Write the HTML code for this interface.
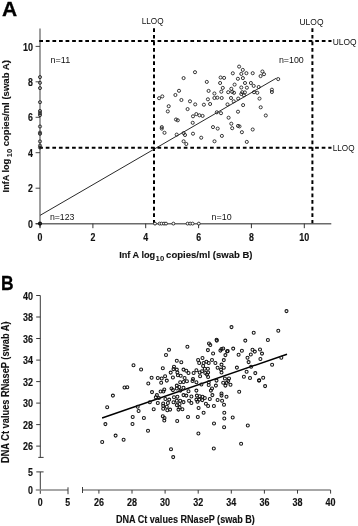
<!DOCTYPE html>
<html><head><meta charset="utf-8"><style>
html,body{margin:0;padding:0;background:#fff;}
body{width:358px;height:526px;overflow:hidden;}
svg{display:block;font-family:"Liberation Sans",sans-serif;filter:blur(0.3px);}
</style></head><body>
<svg width="358" height="526" viewBox="0 0 358 526">
<text x="1.90" y="15.50" font-size="21" font-weight="bold" stroke="#000" stroke-width="0.3" fill="#000" >A</text>
<line x1="40.0" y1="28.5" x2="40.0" y2="227.6" stroke="#6b6b6b" stroke-width="1.3"/>
<line x1="35.7" y1="223.7" x2="331.3" y2="223.7" stroke="#6b6b6b" stroke-width="1.6"/>
<line x1="35.6" y1="223.6" x2="40.0" y2="223.6" stroke="#333" stroke-width="0.9"/>
<text x="33.00" y="227.80" font-size="10.4" font-weight="bold" text-anchor="end" textLength="4.9" lengthAdjust="spacingAndGlyphs" stroke="#111" stroke-width="0.15" fill="#111" >0</text>
<line x1="40.0" y1="223.6" x2="40.0" y2="228.2" stroke="#333" stroke-width="1.0"/>
<text x="40.00" y="240.80" font-size="10.4" font-weight="bold" text-anchor="middle" textLength="4.9" lengthAdjust="spacingAndGlyphs" stroke="#111" stroke-width="0.15" fill="#111" >0</text>
<line x1="35.6" y1="188.2" x2="40.0" y2="188.2" stroke="#333" stroke-width="0.9"/>
<text x="33.00" y="192.36" font-size="10.4" font-weight="bold" text-anchor="end" textLength="4.9" lengthAdjust="spacingAndGlyphs" stroke="#111" stroke-width="0.15" fill="#111" >2</text>
<line x1="92.9" y1="223.6" x2="92.9" y2="228.2" stroke="#333" stroke-width="1.0"/>
<text x="92.86" y="240.80" font-size="10.4" font-weight="bold" text-anchor="middle" textLength="4.9" lengthAdjust="spacingAndGlyphs" stroke="#111" stroke-width="0.15" fill="#111" >2</text>
<line x1="35.6" y1="152.7" x2="40.0" y2="152.7" stroke="#333" stroke-width="0.9"/>
<text x="33.00" y="156.92" font-size="10.4" font-weight="bold" text-anchor="end" textLength="4.9" lengthAdjust="spacingAndGlyphs" stroke="#111" stroke-width="0.15" fill="#111" >4</text>
<line x1="145.7" y1="223.6" x2="145.7" y2="228.2" stroke="#333" stroke-width="1.0"/>
<text x="145.72" y="240.80" font-size="10.4" font-weight="bold" text-anchor="middle" textLength="4.9" lengthAdjust="spacingAndGlyphs" stroke="#111" stroke-width="0.15" fill="#111" >4</text>
<line x1="35.6" y1="117.3" x2="40.0" y2="117.3" stroke="#333" stroke-width="0.9"/>
<text x="33.00" y="121.48" font-size="10.4" font-weight="bold" text-anchor="end" textLength="4.9" lengthAdjust="spacingAndGlyphs" stroke="#111" stroke-width="0.15" fill="#111" >6</text>
<line x1="198.6" y1="223.6" x2="198.6" y2="228.2" stroke="#333" stroke-width="1.0"/>
<text x="198.58" y="240.80" font-size="10.4" font-weight="bold" text-anchor="middle" textLength="4.9" lengthAdjust="spacingAndGlyphs" stroke="#111" stroke-width="0.15" fill="#111" >6</text>
<line x1="35.6" y1="81.8" x2="40.0" y2="81.8" stroke="#333" stroke-width="0.9"/>
<text x="33.00" y="86.04" font-size="10.4" font-weight="bold" text-anchor="end" textLength="4.9" lengthAdjust="spacingAndGlyphs" stroke="#111" stroke-width="0.15" fill="#111" >8</text>
<line x1="251.4" y1="223.6" x2="251.4" y2="228.2" stroke="#333" stroke-width="1.0"/>
<text x="251.44" y="240.80" font-size="10.4" font-weight="bold" text-anchor="middle" textLength="4.9" lengthAdjust="spacingAndGlyphs" stroke="#111" stroke-width="0.15" fill="#111" >8</text>
<line x1="35.6" y1="46.4" x2="40.0" y2="46.4" stroke="#333" stroke-width="0.9"/>
<text x="33.00" y="50.60" font-size="10.4" font-weight="bold" text-anchor="end" textLength="10.0" lengthAdjust="spacingAndGlyphs" stroke="#111" stroke-width="0.15" fill="#111" >10</text>
<line x1="304.3" y1="223.6" x2="304.3" y2="228.2" stroke="#333" stroke-width="1.0"/>
<text x="304.30" y="240.80" font-size="10.4" font-weight="bold" text-anchor="middle" textLength="10.0" lengthAdjust="spacingAndGlyphs" stroke="#111" stroke-width="0.15" fill="#111" >10</text>
<line x1="39.3" y1="41.1" x2="331.5" y2="41.1" stroke="#000" stroke-width="2.0" stroke-dasharray="3.7 2.87"/>
<line x1="39.2" y1="147.7" x2="331.5" y2="147.7" stroke="#000" stroke-width="2.0" stroke-dasharray="3.7 2.87"/>
<line x1="154.0" y1="28.3" x2="154.0" y2="223.3" stroke="#000" stroke-width="2.0" stroke-dasharray="3.7 2.907"/>
<line x1="312.4" y1="28.3" x2="312.4" y2="223.3" stroke="#000" stroke-width="2.0" stroke-dasharray="3.7 2.907"/>
<text x="141.70" y="24.00" font-size="9.6" textLength="21.9" lengthAdjust="spacingAndGlyphs" fill="#111" >LLOQ</text>
<text x="299.50" y="25.20" font-size="9.6" textLength="24.0" lengthAdjust="spacingAndGlyphs" fill="#111" >ULOQ</text>
<text x="332.70" y="44.90" font-size="9.6" textLength="23.9" lengthAdjust="spacingAndGlyphs" fill="#111" >ULOQ</text>
<text x="332.70" y="151.00" font-size="9.6" textLength="21.8" lengthAdjust="spacingAndGlyphs" fill="#111" >LLOQ</text>
<text x="50.40" y="63.00" font-size="9.4" textLength="19.8" lengthAdjust="spacingAndGlyphs" fill="#111" >n=11</text>
<text x="278.90" y="63.00" font-size="9.4" textLength="24.9" lengthAdjust="spacingAndGlyphs" fill="#111" >n=100</text>
<text x="49.90" y="220.00" font-size="9.4" textLength="24.6" lengthAdjust="spacingAndGlyphs" fill="#111" >n=123</text>
<text x="211.60" y="220.00" font-size="9.4" textLength="20.0" lengthAdjust="spacingAndGlyphs" fill="#111" >n=10</text>
<text x="119.20" y="258.30" font-size="9.4" font-weight="bold" textLength="36.0" lengthAdjust="spacingAndGlyphs" stroke="#111" stroke-width="0.12" fill="#111" >Inf A log</text>
<text x="155.60" y="261.00" font-size="7.6" font-weight="bold" textLength="8.6" lengthAdjust="spacingAndGlyphs" fill="#111" >10</text>
<text x="166.10" y="258.30" font-size="9.4" font-weight="bold" textLength="86.4" lengthAdjust="spacingAndGlyphs" stroke="#111" stroke-width="0.12" fill="#111" >copies/ml (swab B)</text>
<g transform="translate(8.9,192.4) rotate(-90)">
<text x="0.00" y="0.00" font-size="9.7" font-weight="bold" textLength="33.6" lengthAdjust="spacingAndGlyphs" stroke="#111" stroke-width="0.12" fill="#111" >InfA log</text>
<text x="35.20" y="2.90" font-size="7.6" font-weight="bold" textLength="8.5" lengthAdjust="spacingAndGlyphs" fill="#111" >10</text>
<text x="46.10" y="0.30" font-size="9.7" font-weight="bold" textLength="86.2" lengthAdjust="spacingAndGlyphs" stroke="#111" stroke-width="0.12" fill="#111" >copies/ml (swab A)</text>
</g>
<line x1="40.2" y1="215.3" x2="276.3" y2="78.2" stroke="#111" stroke-width="0.9"/>
<circle cx="195.0" cy="72.2" r="1.55" fill="none" stroke="#222" stroke-width="0.9"/>
<circle cx="183.6" cy="78.1" r="1.55" fill="none" stroke="#222" stroke-width="0.9"/>
<circle cx="206.8" cy="81.9" r="1.55" fill="none" stroke="#222" stroke-width="0.9"/>
<circle cx="179.0" cy="90.8" r="1.55" fill="none" stroke="#222" stroke-width="0.9"/>
<circle cx="208.6" cy="90.9" r="1.55" fill="none" stroke="#222" stroke-width="0.9"/>
<circle cx="175.4" cy="95.0" r="1.55" fill="none" stroke="#222" stroke-width="0.9"/>
<circle cx="162.3" cy="96.4" r="1.55" fill="none" stroke="#222" stroke-width="0.9"/>
<circle cx="159.1" cy="98.2" r="1.55" fill="none" stroke="#222" stroke-width="0.9"/>
<circle cx="181.4" cy="100.0" r="1.55" fill="none" stroke="#222" stroke-width="0.9"/>
<circle cx="207.9" cy="99.3" r="1.55" fill="none" stroke="#222" stroke-width="0.9"/>
<circle cx="190.0" cy="101.3" r="1.55" fill="none" stroke="#222" stroke-width="0.9"/>
<circle cx="195.2" cy="104.4" r="1.55" fill="none" stroke="#222" stroke-width="0.9"/>
<circle cx="203.9" cy="104.7" r="1.55" fill="none" stroke="#222" stroke-width="0.9"/>
<circle cx="210.1" cy="104.0" r="1.55" fill="none" stroke="#222" stroke-width="0.9"/>
<circle cx="168.7" cy="106.2" r="1.55" fill="none" stroke="#222" stroke-width="0.9"/>
<circle cx="187.6" cy="109.1" r="1.55" fill="none" stroke="#222" stroke-width="0.9"/>
<circle cx="239.1" cy="66.6" r="1.55" fill="none" stroke="#222" stroke-width="0.9"/>
<circle cx="242.8" cy="69.9" r="1.55" fill="none" stroke="#222" stroke-width="0.9"/>
<circle cx="232.8" cy="73.3" r="1.55" fill="none" stroke="#222" stroke-width="0.9"/>
<circle cx="241.3" cy="73.9" r="1.55" fill="none" stroke="#222" stroke-width="0.9"/>
<circle cx="246.4" cy="73.2" r="1.55" fill="none" stroke="#222" stroke-width="0.9"/>
<circle cx="252.7" cy="73.2" r="1.55" fill="none" stroke="#222" stroke-width="0.9"/>
<circle cx="262.4" cy="71.5" r="1.55" fill="none" stroke="#222" stroke-width="0.9"/>
<circle cx="264.0" cy="74.2" r="1.55" fill="none" stroke="#222" stroke-width="0.9"/>
<circle cx="260.6" cy="76.1" r="1.55" fill="none" stroke="#222" stroke-width="0.9"/>
<circle cx="220.6" cy="77.5" r="1.55" fill="none" stroke="#222" stroke-width="0.9"/>
<circle cx="224.1" cy="77.9" r="1.55" fill="none" stroke="#222" stroke-width="0.9"/>
<circle cx="237.9" cy="78.8" r="1.55" fill="none" stroke="#222" stroke-width="0.9"/>
<circle cx="242.9" cy="78.1" r="1.55" fill="none" stroke="#222" stroke-width="0.9"/>
<circle cx="220.1" cy="83.0" r="1.55" fill="none" stroke="#222" stroke-width="0.9"/>
<circle cx="245.0" cy="83.0" r="1.55" fill="none" stroke="#222" stroke-width="0.9"/>
<circle cx="250.9" cy="83.0" r="1.55" fill="none" stroke="#222" stroke-width="0.9"/>
<circle cx="234.6" cy="84.6" r="1.55" fill="none" stroke="#222" stroke-width="0.9"/>
<circle cx="253.7" cy="85.9" r="1.55" fill="none" stroke="#222" stroke-width="0.9"/>
<circle cx="222.8" cy="87.9" r="1.55" fill="none" stroke="#222" stroke-width="0.9"/>
<circle cx="241.3" cy="87.5" r="1.55" fill="none" stroke="#222" stroke-width="0.9"/>
<circle cx="246.9" cy="87.7" r="1.55" fill="none" stroke="#222" stroke-width="0.9"/>
<circle cx="258.7" cy="87.0" r="1.55" fill="none" stroke="#222" stroke-width="0.9"/>
<circle cx="231.3" cy="88.8" r="1.55" fill="none" stroke="#222" stroke-width="0.9"/>
<circle cx="221.3" cy="91.7" r="1.55" fill="none" stroke="#222" stroke-width="0.9"/>
<circle cx="228.2" cy="92.2" r="1.55" fill="none" stroke="#222" stroke-width="0.9"/>
<circle cx="232.2" cy="91.9" r="1.55" fill="none" stroke="#222" stroke-width="0.9"/>
<circle cx="234.0" cy="92.8" r="1.55" fill="none" stroke="#222" stroke-width="0.9"/>
<circle cx="242.2" cy="92.2" r="1.55" fill="none" stroke="#222" stroke-width="0.9"/>
<circle cx="244.9" cy="92.4" r="1.55" fill="none" stroke="#222" stroke-width="0.9"/>
<circle cx="254.0" cy="92.2" r="1.55" fill="none" stroke="#222" stroke-width="0.9"/>
<circle cx="257.3" cy="92.8" r="1.55" fill="none" stroke="#222" stroke-width="0.9"/>
<circle cx="214.4" cy="93.5" r="1.55" fill="none" stroke="#222" stroke-width="0.9"/>
<circle cx="241.3" cy="94.0" r="1.55" fill="none" stroke="#222" stroke-width="0.9"/>
<circle cx="243.9" cy="95.3" r="1.55" fill="none" stroke="#222" stroke-width="0.9"/>
<circle cx="214.4" cy="98.0" r="1.55" fill="none" stroke="#222" stroke-width="0.9"/>
<circle cx="217.3" cy="97.7" r="1.55" fill="none" stroke="#222" stroke-width="0.9"/>
<circle cx="221.7" cy="98.0" r="1.55" fill="none" stroke="#222" stroke-width="0.9"/>
<circle cx="231.0" cy="98.0" r="1.55" fill="none" stroke="#222" stroke-width="0.9"/>
<circle cx="238.2" cy="98.6" r="1.55" fill="none" stroke="#222" stroke-width="0.9"/>
<circle cx="259.5" cy="98.6" r="1.55" fill="none" stroke="#222" stroke-width="0.9"/>
<circle cx="233.7" cy="101.3" r="1.55" fill="none" stroke="#222" stroke-width="0.9"/>
<circle cx="227.5" cy="104.4" r="1.55" fill="none" stroke="#222" stroke-width="0.9"/>
<circle cx="243.1" cy="105.1" r="1.55" fill="none" stroke="#222" stroke-width="0.9"/>
<circle cx="260.7" cy="107.3" r="1.55" fill="none" stroke="#222" stroke-width="0.9"/>
<circle cx="278.2" cy="79.1" r="1.55" fill="none" stroke="#222" stroke-width="0.9"/>
<circle cx="271.9" cy="89.7" r="1.55" fill="none" stroke="#222" stroke-width="0.9"/>
<circle cx="271.9" cy="92.0" r="1.55" fill="none" stroke="#222" stroke-width="0.9"/>
<circle cx="167.8" cy="111.4" r="1.55" fill="none" stroke="#222" stroke-width="0.9"/>
<circle cx="193.0" cy="116.3" r="1.55" fill="none" stroke="#222" stroke-width="0.9"/>
<circle cx="196.3" cy="114.1" r="1.55" fill="none" stroke="#222" stroke-width="0.9"/>
<circle cx="199.4" cy="115.3" r="1.55" fill="none" stroke="#222" stroke-width="0.9"/>
<circle cx="202.6" cy="115.9" r="1.55" fill="none" stroke="#222" stroke-width="0.9"/>
<circle cx="176.0" cy="119.5" r="1.55" fill="none" stroke="#222" stroke-width="0.9"/>
<circle cx="177.8" cy="120.3" r="1.55" fill="none" stroke="#222" stroke-width="0.9"/>
<circle cx="192.7" cy="122.8" r="1.55" fill="none" stroke="#222" stroke-width="0.9"/>
<circle cx="161.8" cy="127.1" r="1.55" fill="none" stroke="#222" stroke-width="0.9"/>
<circle cx="161.8" cy="128.6" r="1.55" fill="none" stroke="#222" stroke-width="0.9"/>
<circle cx="164.5" cy="132.8" r="1.55" fill="none" stroke="#222" stroke-width="0.9"/>
<circle cx="176.7" cy="134.6" r="1.55" fill="none" stroke="#222" stroke-width="0.9"/>
<circle cx="183.6" cy="133.1" r="1.55" fill="none" stroke="#222" stroke-width="0.9"/>
<circle cx="185.0" cy="135.0" r="1.55" fill="none" stroke="#222" stroke-width="0.9"/>
<circle cx="193.0" cy="133.7" r="1.55" fill="none" stroke="#222" stroke-width="0.9"/>
<circle cx="201.2" cy="137.7" r="1.55" fill="none" stroke="#222" stroke-width="0.9"/>
<circle cx="213.0" cy="127.1" r="1.55" fill="none" stroke="#222" stroke-width="0.9"/>
<circle cx="183.6" cy="141.3" r="1.55" fill="none" stroke="#222" stroke-width="0.9"/>
<circle cx="186.3" cy="144.0" r="1.55" fill="none" stroke="#222" stroke-width="0.9"/>
<circle cx="214.5" cy="141.3" r="1.55" fill="none" stroke="#222" stroke-width="0.9"/>
<circle cx="216.8" cy="112.3" r="1.55" fill="none" stroke="#222" stroke-width="0.9"/>
<circle cx="221.0" cy="113.2" r="1.55" fill="none" stroke="#222" stroke-width="0.9"/>
<circle cx="238.0" cy="111.7" r="1.55" fill="none" stroke="#222" stroke-width="0.9"/>
<circle cx="265.8" cy="115.5" r="1.55" fill="none" stroke="#222" stroke-width="0.9"/>
<circle cx="228.6" cy="117.7" r="1.55" fill="none" stroke="#222" stroke-width="0.9"/>
<circle cx="231.3" cy="123.7" r="1.55" fill="none" stroke="#222" stroke-width="0.9"/>
<circle cx="232.2" cy="128.2" r="1.55" fill="none" stroke="#222" stroke-width="0.9"/>
<circle cx="238.0" cy="125.9" r="1.55" fill="none" stroke="#222" stroke-width="0.9"/>
<circle cx="239.5" cy="126.4" r="1.55" fill="none" stroke="#222" stroke-width="0.9"/>
<circle cx="217.7" cy="128.6" r="1.55" fill="none" stroke="#222" stroke-width="0.9"/>
<circle cx="241.9" cy="132.2" r="1.55" fill="none" stroke="#222" stroke-width="0.9"/>
<circle cx="252.7" cy="129.5" r="1.55" fill="none" stroke="#222" stroke-width="0.9"/>
<circle cx="221.9" cy="135.9" r="1.55" fill="none" stroke="#222" stroke-width="0.9"/>
<circle cx="246.8" cy="141.9" r="1.55" fill="none" stroke="#222" stroke-width="0.9"/>
<circle cx="40.0" cy="77.1" r="1.55" fill="none" stroke="#222" stroke-width="0.9"/>
<circle cx="40.0" cy="82.8" r="1.55" fill="none" stroke="#222" stroke-width="0.9"/>
<circle cx="40.0" cy="88.1" r="1.55" fill="none" stroke="#222" stroke-width="0.9"/>
<circle cx="40.0" cy="102.2" r="1.55" fill="none" stroke="#222" stroke-width="0.9"/>
<circle cx="40.0" cy="111.0" r="1.55" fill="none" stroke="#222" stroke-width="0.9"/>
<circle cx="40.0" cy="113.2" r="1.55" fill="none" stroke="#222" stroke-width="0.9"/>
<circle cx="40.0" cy="115.1" r="1.55" fill="none" stroke="#222" stroke-width="0.9"/>
<circle cx="40.0" cy="126.5" r="1.55" fill="none" stroke="#222" stroke-width="0.9"/>
<circle cx="40.0" cy="132.6" r="1.55" fill="none" stroke="#222" stroke-width="0.9"/>
<circle cx="40.0" cy="133.8" r="1.55" fill="none" stroke="#222" stroke-width="0.9"/>
<circle cx="40.0" cy="141.4" r="1.55" fill="none" stroke="#222" stroke-width="0.9"/>
<circle cx="40.0" cy="145.6" r="1.55" fill="none" stroke="#222" stroke-width="0.9"/>
<circle cx="40.0" cy="147.5" r="1.55" fill="none" stroke="#222" stroke-width="0.9"/>
<circle cx="155.0" cy="223.6" r="1.45" fill="#fff" stroke="#222" stroke-width="0.9"/>
<circle cx="159.6" cy="223.6" r="1.45" fill="#fff" stroke="#222" stroke-width="0.9"/>
<circle cx="161.6" cy="223.6" r="1.45" fill="#fff" stroke="#222" stroke-width="0.9"/>
<circle cx="164.0" cy="223.6" r="1.45" fill="#fff" stroke="#222" stroke-width="0.9"/>
<circle cx="166.0" cy="223.6" r="1.45" fill="#fff" stroke="#222" stroke-width="0.9"/>
<circle cx="173.4" cy="223.6" r="1.45" fill="#fff" stroke="#222" stroke-width="0.9"/>
<circle cx="187.6" cy="223.6" r="1.45" fill="#fff" stroke="#222" stroke-width="0.9"/>
<circle cx="190.2" cy="223.6" r="1.45" fill="#fff" stroke="#222" stroke-width="0.9"/>
<circle cx="192.6" cy="223.6" r="1.45" fill="#fff" stroke="#222" stroke-width="0.9"/>
<circle cx="198.8" cy="223.6" r="1.45" fill="#fff" stroke="#222" stroke-width="0.9"/>
<circle cx="40.0" cy="223.6" r="1.3" fill="none" stroke="#111" stroke-width="1.6"/>
<text x="1.00" y="290.10" font-size="20.6" font-weight="bold" textLength="12.6" lengthAdjust="spacingAndGlyphs" stroke="#000" stroke-width="0.3" fill="#000" >B</text>
<line x1="40.3" y1="295.5" x2="40.3" y2="457.4" stroke="#3a3a3a" stroke-width="1"/>
<line x1="38.3" y1="457.4" x2="43.6" y2="457.4" stroke="#3a3a3a" stroke-width="1"/>
<line x1="36.2" y1="446.1" x2="40.3" y2="446.1" stroke="#3a3a3a" stroke-width="1"/>
<text x="33.00" y="450.34" font-size="10.4" font-weight="bold" text-anchor="end" textLength="10.0" lengthAdjust="spacingAndGlyphs" stroke="#111" stroke-width="0.15" fill="#111" >26</text>
<line x1="36.2" y1="424.6" x2="40.3" y2="424.6" stroke="#3a3a3a" stroke-width="1"/>
<text x="33.00" y="428.82" font-size="10.4" font-weight="bold" text-anchor="end" textLength="10.0" lengthAdjust="spacingAndGlyphs" stroke="#111" stroke-width="0.15" fill="#111" >28</text>
<line x1="36.2" y1="403.1" x2="40.3" y2="403.1" stroke="#3a3a3a" stroke-width="1"/>
<text x="33.00" y="407.30" font-size="10.4" font-weight="bold" text-anchor="end" textLength="10.0" lengthAdjust="spacingAndGlyphs" stroke="#111" stroke-width="0.15" fill="#111" >30</text>
<line x1="36.2" y1="381.6" x2="40.3" y2="381.6" stroke="#3a3a3a" stroke-width="1"/>
<text x="33.00" y="385.78" font-size="10.4" font-weight="bold" text-anchor="end" textLength="10.0" lengthAdjust="spacingAndGlyphs" stroke="#111" stroke-width="0.15" fill="#111" >32</text>
<line x1="36.2" y1="360.1" x2="40.3" y2="360.1" stroke="#3a3a3a" stroke-width="1"/>
<text x="33.00" y="364.26" font-size="10.4" font-weight="bold" text-anchor="end" textLength="10.0" lengthAdjust="spacingAndGlyphs" stroke="#111" stroke-width="0.15" fill="#111" >34</text>
<line x1="36.2" y1="338.5" x2="40.3" y2="338.5" stroke="#3a3a3a" stroke-width="1"/>
<text x="33.00" y="342.74" font-size="10.4" font-weight="bold" text-anchor="end" textLength="10.0" lengthAdjust="spacingAndGlyphs" stroke="#111" stroke-width="0.15" fill="#111" >36</text>
<line x1="36.2" y1="317.0" x2="40.3" y2="317.0" stroke="#3a3a3a" stroke-width="1"/>
<text x="33.00" y="321.22" font-size="10.4" font-weight="bold" text-anchor="end" textLength="10.0" lengthAdjust="spacingAndGlyphs" stroke="#111" stroke-width="0.15" fill="#111" >38</text>
<line x1="36.2" y1="295.5" x2="40.3" y2="295.5" stroke="#3a3a3a" stroke-width="1"/>
<text x="33.00" y="299.70" font-size="10.4" font-weight="bold" text-anchor="end" textLength="10.0" lengthAdjust="spacingAndGlyphs" stroke="#111" stroke-width="0.15" fill="#111" >40</text>
<line x1="40.3" y1="471.9" x2="40.3" y2="493.8" stroke="#3a3a3a" stroke-width="1"/>
<line x1="36.3" y1="471.9" x2="43.6" y2="471.9" stroke="#3a3a3a" stroke-width="1"/>
<text x="33.00" y="476.10" font-size="10.4" font-weight="bold" text-anchor="end" textLength="4.9" lengthAdjust="spacingAndGlyphs" stroke="#111" stroke-width="0.15" fill="#111" >5</text>
<text x="33.00" y="493.70" font-size="10.4" font-weight="bold" text-anchor="end" textLength="4.9" lengthAdjust="spacingAndGlyphs" stroke="#111" stroke-width="0.15" fill="#111" >0</text>
<line x1="35.8" y1="490" x2="68" y2="490" stroke="#8a8a8a" stroke-width="1.7"/>
<line x1="68" y1="487.3" x2="68" y2="494.2" stroke="#3a3a3a" stroke-width="1"/>
<text x="40.30" y="506.00" font-size="10.4" font-weight="bold" text-anchor="middle" textLength="4.9" lengthAdjust="spacingAndGlyphs" stroke="#111" stroke-width="0.15" fill="#111" >0</text>
<text x="67.60" y="506.00" font-size="10.4" font-weight="bold" text-anchor="middle" textLength="4.9" lengthAdjust="spacingAndGlyphs" stroke="#111" stroke-width="0.15" fill="#111" >5</text>
<line x1="82.5" y1="490" x2="330.6" y2="490" stroke="#8a8a8a" stroke-width="1.7"/>
<line x1="82.5" y1="487" x2="82.5" y2="493" stroke="#3a3a3a" stroke-width="1"/>
<line x1="98.9" y1="490" x2="98.9" y2="493.6" stroke="#3a3a3a" stroke-width="1"/>
<text x="98.90" y="506.00" font-size="10.4" font-weight="bold" text-anchor="middle" textLength="10.0" lengthAdjust="spacingAndGlyphs" stroke="#111" stroke-width="0.15" fill="#111" >26</text>
<line x1="132.0" y1="490" x2="132.0" y2="493.6" stroke="#3a3a3a" stroke-width="1"/>
<text x="132.00" y="506.00" font-size="10.4" font-weight="bold" text-anchor="middle" textLength="10.0" lengthAdjust="spacingAndGlyphs" stroke="#111" stroke-width="0.15" fill="#111" >28</text>
<line x1="165.1" y1="490" x2="165.1" y2="493.6" stroke="#3a3a3a" stroke-width="1"/>
<text x="165.10" y="506.00" font-size="10.4" font-weight="bold" text-anchor="middle" textLength="10.0" lengthAdjust="spacingAndGlyphs" stroke="#111" stroke-width="0.15" fill="#111" >30</text>
<line x1="198.2" y1="490" x2="198.2" y2="493.6" stroke="#3a3a3a" stroke-width="1"/>
<text x="198.20" y="506.00" font-size="10.4" font-weight="bold" text-anchor="middle" textLength="10.0" lengthAdjust="spacingAndGlyphs" stroke="#111" stroke-width="0.15" fill="#111" >32</text>
<line x1="231.3" y1="490" x2="231.3" y2="493.6" stroke="#3a3a3a" stroke-width="1"/>
<text x="231.30" y="506.00" font-size="10.4" font-weight="bold" text-anchor="middle" textLength="10.0" lengthAdjust="spacingAndGlyphs" stroke="#111" stroke-width="0.15" fill="#111" >34</text>
<line x1="264.4" y1="490" x2="264.4" y2="493.6" stroke="#3a3a3a" stroke-width="1"/>
<text x="264.40" y="506.00" font-size="10.4" font-weight="bold" text-anchor="middle" textLength="10.0" lengthAdjust="spacingAndGlyphs" stroke="#111" stroke-width="0.15" fill="#111" >36</text>
<line x1="297.5" y1="490" x2="297.5" y2="493.6" stroke="#3a3a3a" stroke-width="1"/>
<text x="297.50" y="506.00" font-size="10.4" font-weight="bold" text-anchor="middle" textLength="10.0" lengthAdjust="spacingAndGlyphs" stroke="#111" stroke-width="0.15" fill="#111" >38</text>
<line x1="330.6" y1="490" x2="330.6" y2="493.6" stroke="#3a3a3a" stroke-width="1"/>
<text x="330.60" y="506.00" font-size="10.4" font-weight="bold" text-anchor="middle" textLength="10.0" lengthAdjust="spacingAndGlyphs" stroke="#111" stroke-width="0.15" fill="#111" >40</text>
<text x="115.90" y="522.60" font-size="10.2" font-weight="bold" textLength="139.0" lengthAdjust="spacingAndGlyphs" stroke="#111" stroke-width="0.12" fill="#111" >DNA Ct values RNaseP (swab B)</text>
<g transform="translate(9.0,463.0) rotate(-90)">
<text x="0.00" y="0.20" font-size="10.2" font-weight="bold" textLength="141.6" lengthAdjust="spacingAndGlyphs" stroke="#111" stroke-width="0.12" fill="#111" >DNA Ct values RNaseP (swab A)</text>
</g>
<line x1="102.1" y1="418.0" x2="287.0" y2="354.2" stroke="#000" stroke-width="1.5"/>
<circle cx="148.3" cy="383.4" r="1.5" fill="none" stroke="#151515" stroke-width="1.05"/>
<circle cx="124.5" cy="387.5" r="1.5" fill="none" stroke="#151515" stroke-width="1.05"/>
<circle cx="127.3" cy="387.2" r="1.5" fill="none" stroke="#151515" stroke-width="1.05"/>
<circle cx="152.0" cy="392.1" r="1.5" fill="none" stroke="#151515" stroke-width="1.05"/>
<circle cx="112.9" cy="395.6" r="1.5" fill="none" stroke="#151515" stroke-width="1.05"/>
<circle cx="107.2" cy="407.3" r="1.5" fill="none" stroke="#151515" stroke-width="1.05"/>
<circle cx="137.7" cy="406.8" r="1.5" fill="none" stroke="#151515" stroke-width="1.05"/>
<circle cx="138.6" cy="411.0" r="1.5" fill="none" stroke="#151515" stroke-width="1.05"/>
<circle cx="149.8" cy="402.3" r="1.5" fill="none" stroke="#151515" stroke-width="1.05"/>
<circle cx="153.7" cy="409.3" r="1.5" fill="none" stroke="#151515" stroke-width="1.05"/>
<circle cx="132.7" cy="416.9" r="1.5" fill="none" stroke="#151515" stroke-width="1.05"/>
<circle cx="143.9" cy="418.0" r="1.5" fill="none" stroke="#151515" stroke-width="1.05"/>
<circle cx="105.4" cy="424.1" r="1.5" fill="none" stroke="#151515" stroke-width="1.05"/>
<circle cx="132.5" cy="423.9" r="1.5" fill="none" stroke="#151515" stroke-width="1.05"/>
<circle cx="148.0" cy="430.7" r="1.5" fill="none" stroke="#151515" stroke-width="1.05"/>
<circle cx="164.3" cy="420.4" r="1.5" fill="none" stroke="#151515" stroke-width="1.05"/>
<circle cx="115.6" cy="435.6" r="1.5" fill="none" stroke="#151515" stroke-width="1.05"/>
<circle cx="123.6" cy="439.7" r="1.5" fill="none" stroke="#151515" stroke-width="1.05"/>
<circle cx="102.2" cy="441.9" r="1.5" fill="none" stroke="#151515" stroke-width="1.05"/>
<circle cx="171.0" cy="449.3" r="1.5" fill="none" stroke="#151515" stroke-width="1.05"/>
<circle cx="173.2" cy="457.1" r="1.5" fill="none" stroke="#151515" stroke-width="1.05"/>
<circle cx="161.2" cy="382.8" r="1.5" fill="none" stroke="#151515" stroke-width="1.05"/>
<circle cx="166.8" cy="380.6" r="1.5" fill="none" stroke="#151515" stroke-width="1.05"/>
<circle cx="180.2" cy="382.2" r="1.5" fill="none" stroke="#151515" stroke-width="1.05"/>
<circle cx="183.5" cy="382.0" r="1.5" fill="none" stroke="#151515" stroke-width="1.05"/>
<circle cx="186.9" cy="381.3" r="1.5" fill="none" stroke="#151515" stroke-width="1.05"/>
<circle cx="160.6" cy="391.5" r="1.5" fill="none" stroke="#151515" stroke-width="1.05"/>
<circle cx="164.3" cy="389.5" r="1.5" fill="none" stroke="#151515" stroke-width="1.05"/>
<circle cx="163.4" cy="391.5" r="1.5" fill="none" stroke="#151515" stroke-width="1.05"/>
<circle cx="171.5" cy="388.4" r="1.5" fill="none" stroke="#151515" stroke-width="1.05"/>
<circle cx="172.9" cy="390.1" r="1.5" fill="none" stroke="#151515" stroke-width="1.05"/>
<circle cx="176.8" cy="385.6" r="1.5" fill="none" stroke="#151515" stroke-width="1.05"/>
<circle cx="179.3" cy="386.9" r="1.5" fill="none" stroke="#151515" stroke-width="1.05"/>
<circle cx="176.8" cy="388.4" r="1.5" fill="none" stroke="#151515" stroke-width="1.05"/>
<circle cx="183.5" cy="387.8" r="1.5" fill="none" stroke="#151515" stroke-width="1.05"/>
<circle cx="180.4" cy="390.6" r="1.5" fill="none" stroke="#151515" stroke-width="1.05"/>
<circle cx="188.5" cy="391.2" r="1.5" fill="none" stroke="#151515" stroke-width="1.05"/>
<circle cx="156.9" cy="395.1" r="1.5" fill="none" stroke="#151515" stroke-width="1.05"/>
<circle cx="155.8" cy="397.3" r="1.5" fill="none" stroke="#151515" stroke-width="1.05"/>
<circle cx="158.9" cy="397.9" r="1.5" fill="none" stroke="#151515" stroke-width="1.05"/>
<circle cx="183.5" cy="395.1" r="1.5" fill="none" stroke="#151515" stroke-width="1.05"/>
<circle cx="186.3" cy="395.6" r="1.5" fill="none" stroke="#151515" stroke-width="1.05"/>
<circle cx="165.4" cy="399.0" r="1.5" fill="none" stroke="#151515" stroke-width="1.05"/>
<circle cx="169.2" cy="399.6" r="1.5" fill="none" stroke="#151515" stroke-width="1.05"/>
<circle cx="174.0" cy="397.3" r="1.5" fill="none" stroke="#151515" stroke-width="1.05"/>
<circle cx="177.4" cy="396.8" r="1.5" fill="none" stroke="#151515" stroke-width="1.05"/>
<circle cx="157.8" cy="402.9" r="1.5" fill="none" stroke="#151515" stroke-width="1.05"/>
<circle cx="163.2" cy="403.5" r="1.5" fill="none" stroke="#151515" stroke-width="1.05"/>
<circle cx="167.9" cy="402.9" r="1.5" fill="none" stroke="#151515" stroke-width="1.05"/>
<circle cx="173.5" cy="402.3" r="1.5" fill="none" stroke="#151515" stroke-width="1.05"/>
<circle cx="176.8" cy="400.7" r="1.5" fill="none" stroke="#151515" stroke-width="1.05"/>
<circle cx="180.2" cy="400.7" r="1.5" fill="none" stroke="#151515" stroke-width="1.05"/>
<circle cx="183.5" cy="402.1" r="1.5" fill="none" stroke="#151515" stroke-width="1.05"/>
<circle cx="163.2" cy="405.7" r="1.5" fill="none" stroke="#151515" stroke-width="1.05"/>
<circle cx="176.8" cy="405.1" r="1.5" fill="none" stroke="#151515" stroke-width="1.05"/>
<circle cx="179.6" cy="404.0" r="1.5" fill="none" stroke="#151515" stroke-width="1.05"/>
<circle cx="166.8" cy="406.8" r="1.5" fill="none" stroke="#151515" stroke-width="1.05"/>
<circle cx="163.2" cy="408.8" r="1.5" fill="none" stroke="#151515" stroke-width="1.05"/>
<circle cx="167.3" cy="410.2" r="1.5" fill="none" stroke="#151515" stroke-width="1.05"/>
<circle cx="170.1" cy="409.6" r="1.5" fill="none" stroke="#151515" stroke-width="1.05"/>
<circle cx="178.5" cy="409.6" r="1.5" fill="none" stroke="#151515" stroke-width="1.05"/>
<circle cx="182.4" cy="409.3" r="1.5" fill="none" stroke="#151515" stroke-width="1.05"/>
<circle cx="179.6" cy="407.4" r="1.5" fill="none" stroke="#151515" stroke-width="1.05"/>
<circle cx="162.8" cy="416.3" r="1.5" fill="none" stroke="#151515" stroke-width="1.05"/>
<circle cx="164.5" cy="418.0" r="1.5" fill="none" stroke="#151515" stroke-width="1.05"/>
<circle cx="188.0" cy="416.9" r="1.5" fill="none" stroke="#151515" stroke-width="1.05"/>
<circle cx="192.5" cy="380.9" r="1.5" fill="none" stroke="#151515" stroke-width="1.05"/>
<circle cx="196.4" cy="382.2" r="1.5" fill="none" stroke="#151515" stroke-width="1.05"/>
<circle cx="201.4" cy="384.5" r="1.5" fill="none" stroke="#151515" stroke-width="1.05"/>
<circle cx="208.7" cy="385.0" r="1.5" fill="none" stroke="#151515" stroke-width="1.05"/>
<circle cx="208.7" cy="382.2" r="1.5" fill="none" stroke="#151515" stroke-width="1.05"/>
<circle cx="215.9" cy="385.6" r="1.5" fill="none" stroke="#151515" stroke-width="1.05"/>
<circle cx="216.5" cy="380.6" r="1.5" fill="none" stroke="#151515" stroke-width="1.05"/>
<circle cx="223.2" cy="382.8" r="1.5" fill="none" stroke="#151515" stroke-width="1.05"/>
<circle cx="225.4" cy="385.6" r="1.5" fill="none" stroke="#151515" stroke-width="1.05"/>
<circle cx="196.4" cy="390.6" r="1.5" fill="none" stroke="#151515" stroke-width="1.05"/>
<circle cx="210.9" cy="390.6" r="1.5" fill="none" stroke="#151515" stroke-width="1.05"/>
<circle cx="212.0" cy="388.4" r="1.5" fill="none" stroke="#151515" stroke-width="1.05"/>
<circle cx="191.4" cy="396.5" r="1.5" fill="none" stroke="#151515" stroke-width="1.05"/>
<circle cx="196.9" cy="395.6" r="1.5" fill="none" stroke="#151515" stroke-width="1.05"/>
<circle cx="199.7" cy="396.2" r="1.5" fill="none" stroke="#151515" stroke-width="1.05"/>
<circle cx="202.5" cy="396.8" r="1.5" fill="none" stroke="#151515" stroke-width="1.05"/>
<circle cx="204.8" cy="397.9" r="1.5" fill="none" stroke="#151515" stroke-width="1.05"/>
<circle cx="212.4" cy="395.1" r="1.5" fill="none" stroke="#151515" stroke-width="1.05"/>
<circle cx="221.5" cy="393.4" r="1.5" fill="none" stroke="#151515" stroke-width="1.05"/>
<circle cx="221.5" cy="395.6" r="1.5" fill="none" stroke="#151515" stroke-width="1.05"/>
<circle cx="226.5" cy="396.8" r="1.5" fill="none" stroke="#151515" stroke-width="1.05"/>
<circle cx="189.1" cy="400.7" r="1.5" fill="none" stroke="#151515" stroke-width="1.05"/>
<circle cx="196.4" cy="399.6" r="1.5" fill="none" stroke="#151515" stroke-width="1.05"/>
<circle cx="199.2" cy="399.6" r="1.5" fill="none" stroke="#151515" stroke-width="1.05"/>
<circle cx="202.3" cy="400.1" r="1.5" fill="none" stroke="#151515" stroke-width="1.05"/>
<circle cx="209.8" cy="399.0" r="1.5" fill="none" stroke="#151515" stroke-width="1.05"/>
<circle cx="217.6" cy="399.9" r="1.5" fill="none" stroke="#151515" stroke-width="1.05"/>
<circle cx="222.1" cy="400.7" r="1.5" fill="none" stroke="#151515" stroke-width="1.05"/>
<circle cx="191.4" cy="402.9" r="1.5" fill="none" stroke="#151515" stroke-width="1.05"/>
<circle cx="197.5" cy="401.8" r="1.5" fill="none" stroke="#151515" stroke-width="1.05"/>
<circle cx="205.9" cy="403.7" r="1.5" fill="none" stroke="#151515" stroke-width="1.05"/>
<circle cx="208.1" cy="405.9" r="1.5" fill="none" stroke="#151515" stroke-width="1.05"/>
<circle cx="213.9" cy="405.9" r="1.5" fill="none" stroke="#151515" stroke-width="1.05"/>
<circle cx="224.0" cy="404.8" r="1.5" fill="none" stroke="#151515" stroke-width="1.05"/>
<circle cx="198.6" cy="407.9" r="1.5" fill="none" stroke="#151515" stroke-width="1.05"/>
<circle cx="203.6" cy="412.7" r="1.5" fill="none" stroke="#151515" stroke-width="1.05"/>
<circle cx="224.3" cy="412.7" r="1.5" fill="none" stroke="#151515" stroke-width="1.05"/>
<circle cx="197.8" cy="416.9" r="1.5" fill="none" stroke="#151515" stroke-width="1.05"/>
<circle cx="224.3" cy="418.5" r="1.5" fill="none" stroke="#151515" stroke-width="1.05"/>
<circle cx="228.2" cy="381.1" r="1.5" fill="none" stroke="#151515" stroke-width="1.05"/>
<circle cx="230.5" cy="384.7" r="1.5" fill="none" stroke="#151515" stroke-width="1.05"/>
<circle cx="259.0" cy="380.6" r="1.5" fill="none" stroke="#151515" stroke-width="1.05"/>
<circle cx="265.1" cy="386.1" r="1.5" fill="none" stroke="#151515" stroke-width="1.05"/>
<circle cx="239.2" cy="391.7" r="1.5" fill="none" stroke="#151515" stroke-width="1.05"/>
<circle cx="232.7" cy="417.4" r="1.5" fill="none" stroke="#151515" stroke-width="1.05"/>
<circle cx="177.2" cy="421.0" r="1.5" fill="none" stroke="#151515" stroke-width="1.05"/>
<circle cx="214.0" cy="423.5" r="1.5" fill="none" stroke="#151515" stroke-width="1.05"/>
<circle cx="224.1" cy="427.3" r="1.5" fill="none" stroke="#151515" stroke-width="1.05"/>
<circle cx="247.8" cy="425.5" r="1.5" fill="none" stroke="#151515" stroke-width="1.05"/>
<circle cx="198.4" cy="433.5" r="1.5" fill="none" stroke="#151515" stroke-width="1.05"/>
<circle cx="213.8" cy="448.5" r="1.5" fill="none" stroke="#151515" stroke-width="1.05"/>
<circle cx="241.1" cy="443.8" r="1.5" fill="none" stroke="#151515" stroke-width="1.05"/>
<circle cx="133.5" cy="365.2" r="1.5" fill="none" stroke="#151515" stroke-width="1.05"/>
<circle cx="141.1" cy="369.4" r="1.5" fill="none" stroke="#151515" stroke-width="1.05"/>
<circle cx="151.6" cy="377.8" r="1.5" fill="none" stroke="#151515" stroke-width="1.05"/>
<circle cx="187.4" cy="346.7" r="1.5" fill="none" stroke="#151515" stroke-width="1.05"/>
<circle cx="169.0" cy="349.8" r="1.5" fill="none" stroke="#151515" stroke-width="1.05"/>
<circle cx="166.0" cy="354.9" r="1.5" fill="none" stroke="#151515" stroke-width="1.05"/>
<circle cx="176.8" cy="360.7" r="1.5" fill="none" stroke="#151515" stroke-width="1.05"/>
<circle cx="181.3" cy="362.3" r="1.5" fill="none" stroke="#151515" stroke-width="1.05"/>
<circle cx="162.8" cy="368.3" r="1.5" fill="none" stroke="#151515" stroke-width="1.05"/>
<circle cx="174.0" cy="366.8" r="1.5" fill="none" stroke="#151515" stroke-width="1.05"/>
<circle cx="173.5" cy="369.1" r="1.5" fill="none" stroke="#151515" stroke-width="1.05"/>
<circle cx="176.8" cy="369.6" r="1.5" fill="none" stroke="#151515" stroke-width="1.05"/>
<circle cx="183.5" cy="369.6" r="1.5" fill="none" stroke="#151515" stroke-width="1.05"/>
<circle cx="186.3" cy="370.7" r="1.5" fill="none" stroke="#151515" stroke-width="1.05"/>
<circle cx="188.5" cy="373.0" r="1.5" fill="none" stroke="#151515" stroke-width="1.05"/>
<circle cx="170.7" cy="372.6" r="1.5" fill="none" stroke="#151515" stroke-width="1.05"/>
<circle cx="177.4" cy="372.4" r="1.5" fill="none" stroke="#151515" stroke-width="1.05"/>
<circle cx="177.9" cy="375.2" r="1.5" fill="none" stroke="#151515" stroke-width="1.05"/>
<circle cx="157.8" cy="378.0" r="1.5" fill="none" stroke="#151515" stroke-width="1.05"/>
<circle cx="165.1" cy="376.3" r="1.5" fill="none" stroke="#151515" stroke-width="1.05"/>
<circle cx="161.7" cy="378.5" r="1.5" fill="none" stroke="#151515" stroke-width="1.05"/>
<circle cx="172.9" cy="377.4" r="1.5" fill="none" stroke="#151515" stroke-width="1.05"/>
<circle cx="180.7" cy="375.8" r="1.5" fill="none" stroke="#151515" stroke-width="1.05"/>
<circle cx="184.6" cy="378.0" r="1.5" fill="none" stroke="#151515" stroke-width="1.05"/>
<circle cx="216.8" cy="340.6" r="1.5" fill="none" stroke="#151515" stroke-width="1.05"/>
<circle cx="209.0" cy="343.4" r="1.5" fill="none" stroke="#151515" stroke-width="1.05"/>
<circle cx="210.3" cy="345.0" r="1.5" fill="none" stroke="#151515" stroke-width="1.05"/>
<circle cx="207.9" cy="350.1" r="1.5" fill="none" stroke="#151515" stroke-width="1.05"/>
<circle cx="221.5" cy="348.9" r="1.5" fill="none" stroke="#151515" stroke-width="1.05"/>
<circle cx="220.4" cy="350.6" r="1.5" fill="none" stroke="#151515" stroke-width="1.05"/>
<circle cx="223.2" cy="348.4" r="1.5" fill="none" stroke="#151515" stroke-width="1.05"/>
<circle cx="227.1" cy="351.2" r="1.5" fill="none" stroke="#151515" stroke-width="1.05"/>
<circle cx="213.1" cy="353.4" r="1.5" fill="none" stroke="#151515" stroke-width="1.05"/>
<circle cx="225.4" cy="355.1" r="1.5" fill="none" stroke="#151515" stroke-width="1.05"/>
<circle cx="198.1" cy="359.9" r="1.5" fill="none" stroke="#151515" stroke-width="1.05"/>
<circle cx="202.5" cy="357.9" r="1.5" fill="none" stroke="#151515" stroke-width="1.05"/>
<circle cx="212.0" cy="359.9" r="1.5" fill="none" stroke="#151515" stroke-width="1.05"/>
<circle cx="223.8" cy="360.1" r="1.5" fill="none" stroke="#151515" stroke-width="1.05"/>
<circle cx="199.2" cy="362.9" r="1.5" fill="none" stroke="#151515" stroke-width="1.05"/>
<circle cx="203.6" cy="362.9" r="1.5" fill="none" stroke="#151515" stroke-width="1.05"/>
<circle cx="206.4" cy="361.8" r="1.5" fill="none" stroke="#151515" stroke-width="1.05"/>
<circle cx="208.7" cy="362.9" r="1.5" fill="none" stroke="#151515" stroke-width="1.05"/>
<circle cx="215.4" cy="362.9" r="1.5" fill="none" stroke="#151515" stroke-width="1.05"/>
<circle cx="221.5" cy="364.6" r="1.5" fill="none" stroke="#151515" stroke-width="1.05"/>
<circle cx="203.1" cy="365.9" r="1.5" fill="none" stroke="#151515" stroke-width="1.05"/>
<circle cx="217.6" cy="367.7" r="1.5" fill="none" stroke="#151515" stroke-width="1.05"/>
<circle cx="223.8" cy="367.7" r="1.5" fill="none" stroke="#151515" stroke-width="1.05"/>
<circle cx="204.8" cy="368.8" r="1.5" fill="none" stroke="#151515" stroke-width="1.05"/>
<circle cx="207.9" cy="368.8" r="1.5" fill="none" stroke="#151515" stroke-width="1.05"/>
<circle cx="221.0" cy="369.6" r="1.5" fill="none" stroke="#151515" stroke-width="1.05"/>
<circle cx="196.4" cy="370.2" r="1.5" fill="none" stroke="#151515" stroke-width="1.05"/>
<circle cx="193.6" cy="373.0" r="1.5" fill="none" stroke="#151515" stroke-width="1.05"/>
<circle cx="199.7" cy="372.4" r="1.5" fill="none" stroke="#151515" stroke-width="1.05"/>
<circle cx="202.0" cy="371.3" r="1.5" fill="none" stroke="#151515" stroke-width="1.05"/>
<circle cx="208.1" cy="372.4" r="1.5" fill="none" stroke="#151515" stroke-width="1.05"/>
<circle cx="221.5" cy="372.4" r="1.5" fill="none" stroke="#151515" stroke-width="1.05"/>
<circle cx="205.3" cy="373.0" r="1.5" fill="none" stroke="#151515" stroke-width="1.05"/>
<circle cx="207.0" cy="374.6" r="1.5" fill="none" stroke="#151515" stroke-width="1.05"/>
<circle cx="200.1" cy="376.3" r="1.5" fill="none" stroke="#151515" stroke-width="1.05"/>
<circle cx="208.1" cy="376.9" r="1.5" fill="none" stroke="#151515" stroke-width="1.05"/>
<circle cx="193.0" cy="379.1" r="1.5" fill="none" stroke="#151515" stroke-width="1.05"/>
<circle cx="224.9" cy="378.5" r="1.5" fill="none" stroke="#151515" stroke-width="1.05"/>
<circle cx="286.5" cy="311.1" r="1.5" fill="none" stroke="#151515" stroke-width="1.05"/>
<circle cx="231.5" cy="327.1" r="1.5" fill="none" stroke="#151515" stroke-width="1.05"/>
<circle cx="253.7" cy="332.7" r="1.5" fill="none" stroke="#151515" stroke-width="1.05"/>
<circle cx="278.3" cy="330.7" r="1.5" fill="none" stroke="#151515" stroke-width="1.05"/>
<circle cx="245.3" cy="340.6" r="1.5" fill="none" stroke="#151515" stroke-width="1.05"/>
<circle cx="267.9" cy="339.9" r="1.5" fill="none" stroke="#151515" stroke-width="1.05"/>
<circle cx="227.7" cy="351.1" r="1.5" fill="none" stroke="#151515" stroke-width="1.05"/>
<circle cx="233.2" cy="348.6" r="1.5" fill="none" stroke="#151515" stroke-width="1.05"/>
<circle cx="241.9" cy="350.8" r="1.5" fill="none" stroke="#151515" stroke-width="1.05"/>
<circle cx="238.6" cy="354.8" r="1.5" fill="none" stroke="#151515" stroke-width="1.05"/>
<circle cx="252.5" cy="349.8" r="1.5" fill="none" stroke="#151515" stroke-width="1.05"/>
<circle cx="254.8" cy="351.6" r="1.5" fill="none" stroke="#151515" stroke-width="1.05"/>
<circle cx="260.0" cy="349.4" r="1.5" fill="none" stroke="#151515" stroke-width="1.05"/>
<circle cx="262.0" cy="353.6" r="1.5" fill="none" stroke="#151515" stroke-width="1.05"/>
<circle cx="250.8" cy="354.5" r="1.5" fill="none" stroke="#151515" stroke-width="1.05"/>
<circle cx="247.5" cy="357.8" r="1.5" fill="none" stroke="#151515" stroke-width="1.05"/>
<circle cx="260.4" cy="359.0" r="1.5" fill="none" stroke="#151515" stroke-width="1.05"/>
<circle cx="281.3" cy="357.8" r="1.5" fill="none" stroke="#151515" stroke-width="1.05"/>
<circle cx="248.6" cy="362.1" r="1.5" fill="none" stroke="#151515" stroke-width="1.05"/>
<circle cx="272.1" cy="364.7" r="1.5" fill="none" stroke="#151515" stroke-width="1.05"/>
<circle cx="236.9" cy="367.6" r="1.5" fill="none" stroke="#151515" stroke-width="1.05"/>
<circle cx="251.1" cy="366.8" r="1.5" fill="none" stroke="#151515" stroke-width="1.05"/>
<circle cx="246.6" cy="371.8" r="1.5" fill="none" stroke="#151515" stroke-width="1.05"/>
<circle cx="255.3" cy="373.1" r="1.5" fill="none" stroke="#151515" stroke-width="1.05"/>
<circle cx="243.9" cy="376.8" r="1.5" fill="none" stroke="#151515" stroke-width="1.05"/>
<circle cx="250.0" cy="378.0" r="1.5" fill="none" stroke="#151515" stroke-width="1.05"/>
<circle cx="259.2" cy="380.2" r="1.5" fill="none" stroke="#151515" stroke-width="1.05"/>
<circle cx="263.2" cy="377.7" r="1.5" fill="none" stroke="#151515" stroke-width="1.05"/>
<circle cx="229.0" cy="378.5" r="1.5" fill="none" stroke="#151515" stroke-width="1.05"/>
<circle cx="226.8" cy="382.7" r="1.5" fill="none" stroke="#151515" stroke-width="1.05"/>
<circle cx="216.6" cy="339.8" r="1.5" fill="none" stroke="#151515" stroke-width="1.05"/>
</svg>
</body></html>
